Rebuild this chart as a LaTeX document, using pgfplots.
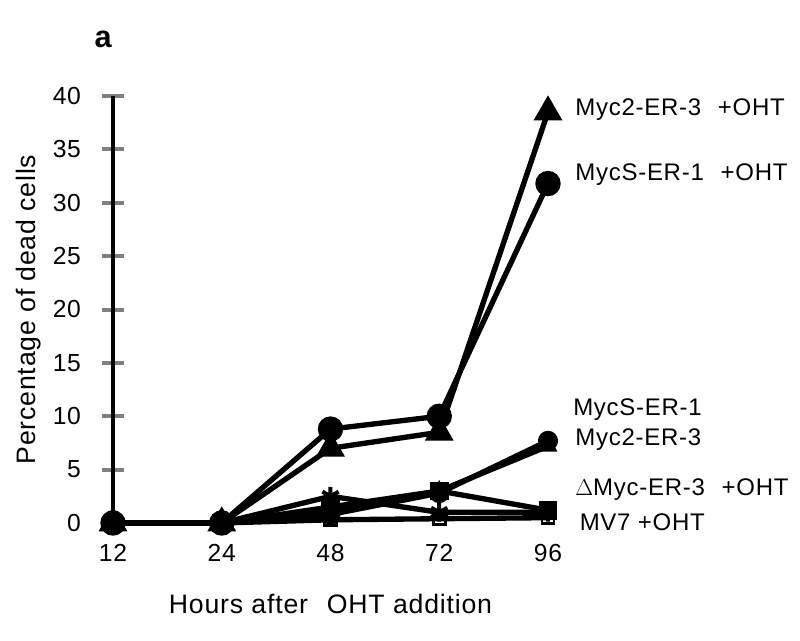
\documentclass[border=0pt]{standalone}
\usepackage{fontspec}
\setmainfont{Liberation Sans}[LetterSpace=3]
\usepackage{pgfplots}
\pgfplotsset{compat=1.18}

\begin{document}
\begin{tikzpicture}
% page = 800x640 px at 0.75pt/px, axis origin at px (113,523)
\useasboundingbox (-84.75pt,-87.75pt) rectangle (515.25pt,392.25pt);
\begin{axis}[
    scale only axis,
    width=326.25pt, height=320.25pt,
    xmin=0, xmax=4, ymin=0, ymax=40,
    axis lines=left,
    x axis line style={draw=none},
    y axis line style={line width=3pt, -},
    clip=false,
    xtick={0,1,2,3,4},
    xticklabels={12,24,48,72,96},
    xtick style={draw=none},
    ytick={0,5,...,40},
    ytick style={line width=3pt},
    tick align=center,
    major tick length=17pt,
    /pgf/number format/assume math mode=true,
    tick label style={font=\fontsize{18.5}{21}\selectfont},
    xticklabel style={yshift=-4pt},
    yticklabel style={xshift=-12pt},
    every axis plot/.append style={black, line width=4pt},
]
\addplot[mark=triangle*, mark size=8.5pt] coordinates {(0,0)(1,0)(2,7)(3,8.5)(4,38.5)};
\addplot[mark=*, mark size=7.5pt] coordinates {(0,0)(1,0)(2,8.8)(3,10)(4,31.8)};
\addplot[mark=*, mark size=5.5pt] coordinates {(0,0)(1,0)(2,0.8)(3,2.8)(4,7.7)};
\addplot[mark=triangle, mark size=6pt, mark options={fill=white, line width=2.2pt}] coordinates {(0,0)(1,0)(2,1)(3,3)(4,7.2)};
\addplot[mark=square*, mark size=5pt] coordinates {(0,0)(1,0)(2,1.5)(3,3)(4,1.2)};
\addplot[mark=asterisk, mark size=7pt, mark options={line width=3pt}] coordinates {(0,0)(1,0)(2,2.5)(3,1)(4,1)};
\addplot[mark=square, mark size=4.5pt, mark options={fill=white, line width=2.2pt}] coordinates {(0,0)(1,0)(2,0.3)(3,0.4)(4,0.5)};

\begin{scope}[every node/.style={anchor=west, inner sep=0pt, font=\fontsize{18}{21}\selectfont}]
\node at (axis cs:4.25,38.7) {Myc2-ER-3\hspace{0.7em}+OHT};
\node at (axis cs:4.25,32.6) {MycS-ER-1\hspace{0.7em}+OHT};
\node at (axis cs:4.23,10.6) {MycS-ER-1};
\node at (axis cs:4.25,7.8) {Myc2-ER-3};
\node at (axis cs:4.25,3.1) {$\Delta$Myc-ER-3\hspace{0.7em}+OHT};
\node at (axis cs:4.29,0.1) {MV7 +OHT};
\end{scope}
\node[font=\fontsize{23}{26}\selectfont\bfseries] at (axis cs:-0.09,45.3) {a};
\node[rotate=90, font=\fontsize{20}{24}\selectfont] at (axis description cs:-0.195,0.5) {Percentage of dead cells};
\node[font=\fontsize{20}{24}\selectfont] at (axis description cs:0.5,-0.19) {Hours after\hspace{0.4em} OHT addition};
\end{axis}
\end{tikzpicture}
\end{document}
